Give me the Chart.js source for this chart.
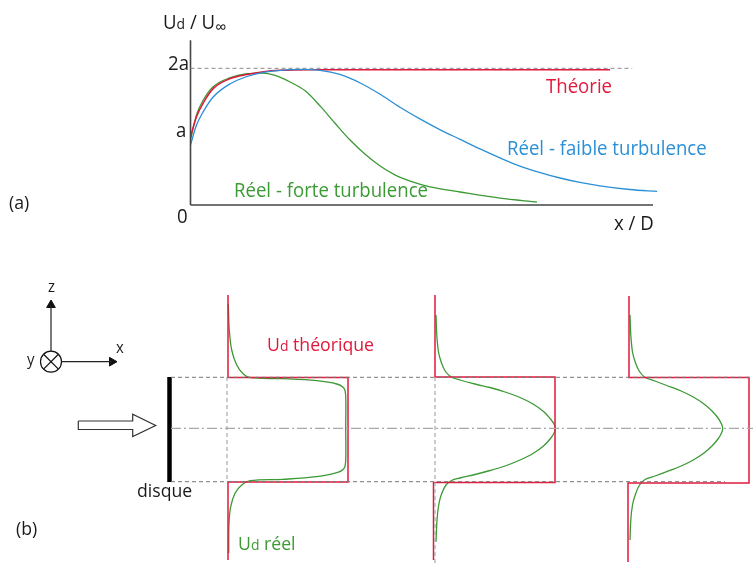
<!DOCTYPE html>
<html>
<head>
<meta charset="utf-8">
<script src="https://cdn.jsdelivr.net/npm/chart.js@4.4.1/dist/chart.umd.min.js"></script>
<style>
  html, body { margin: 0; padding: 0; background: #fff; }
  #wrap { width: 753px; height: 565px; }
</style>
</head>
<body>
<div id="wrap"><canvas id="fig" width="753" height="565"></canvas></div>
<script>
// ---- (a) Ud/U∞ versus x/D  (x in x/D units 0..10, y in units of a) ----
const xdTheory = [0, 0.13, 0.29, 0.5, 0.86, 1.22, 1.58, 1.94, 2.6, 9.07];
const udTheory = [1.0, 1.29, 1.51, 1.71, 1.85, 1.91, 1.95, 1.97, 1.98, 1.98];

const xdWeak = [0, 0.13, 0.28, 0.49, 0.85, 1.22, 1.57, 1.94, 2.37, 2.8, 3.23, 3.67, 4.1, 4.53, 4.96, 5.4, 5.83, 6.26, 6.69, 7.12, 7.56, 7.99, 8.42, 8.85, 9.5, 10.09];
const udWeak = [0.88, 1.17, 1.37, 1.58, 1.77, 1.88, 1.94, 1.97, 1.985, 1.97, 1.91, 1.785, 1.62, 1.43, 1.26, 1.1, 0.96, 0.82, 0.69, 0.57, 0.475, 0.395, 0.33, 0.28, 0.227, 0.198];

const xdStrong = [0, 0.13, 0.28, 0.49, 0.85, 1.22, 1.55, 1.83, 2.15, 2.48, 2.8, 3.12, 3.45, 3.77, 4.1, 4.42, 4.75, 5.18, 5.83, 6.69, 7.49];
const udStrong = [0.95, 1.32, 1.54, 1.73, 1.86, 1.92, 1.93, 1.895, 1.8, 1.67, 1.45, 1.2, 0.95, 0.745, 0.57, 0.44, 0.35, 0.265, 0.19, 0.1, 0.044];

const levelTwoA = 2;      // dashed 2a reference
const levelTwoAEnd = 9.55;
const axisXEnd = 10;
const axisYEnd = 2.41;

// ---- (b) wake profiles, diagram coordinates ----
const redProfile1 = [[228,295],[228,377.5],[348,377.5],[348,482],[228,482],[228,560]];
const redProfile2 = [[435,295],[435,377],[555,377],[555,482.5],[433.5,482.5],[433.5,560]];
const redProfile3 = [[629,296],[629,377.5],[749,377.5],[749,483],[628,483],[628,562]];

const greenProfile1 = [[228.3,304],[229.3,330],[231.7,350],[236.7,365],[243.3,374],[250,377.7],[283,378.7],[316.7,380.7],[336.7,384],[344,388.3],[345.7,396.7],[345.7,428],[345.7,460],[344,468.3],[336.7,472.7],[316.7,476.7],[283,479.3],[250,480.7],[241.7,485],[235,493.3],[230.7,506.7],[229,523.3],[228.7,553]];
const greenProfile2 = [[436,315],[436.8,335],[438.5,352],[441.5,363],[445.5,371.5],[451.5,377.2],[460,380],[475,384],[490,387.5],[505,392],[520,397.5],[533,404],[543.5,411.5],[550.5,419],[554.3,424.5],[555.3,428.5],[554.3,432.5],[550.5,438.5],[543.5,446],[533,453.5],[520,460],[505,466],[490,470.5],[475,474.5],[460,478],[451.5,480.5],[446,485],[441.5,494],[438.7,505],[437,520],[436,541.7]];
const greenProfile3 = [[630,315],[630.8,335],[632.5,352],[635.5,363],[639.5,371.5],[645,377.3],[655,381],[666.7,385.5],[680,390.5],[693.3,397],[704,404],[712,411],[718,418],[721.5,424],[722.7,428.5],[721.5,433],[718,439],[712,446],[704,453],[693.3,460],[680,466.5],[666.7,471.7],[655,476],[645,479.5],[639.5,485],[635.5,494],[632.5,505],[630.8,520],[630,540]];

const discEdgeTop = [[171,377.3],[749,377.3]];
const discEdgeBottom = [[171,481.7],[725,481.7]];
const wakeAxis = [[171,428.3],[753,428.3]];
const stationGuide1 = [[227,377],[227,482]];
const stationGuide2 = [[435,377],[435,564]];

const disc = [[169.5,377],[169.5,482]];
const flowArrow = [[78.3,421],[132.7,421],[132.7,414.3],[155.7,425.5],[132.7,436.5],[132.7,429.5],[78.3,429.5],[78.3,421]];

const triadOrigin = [51, 361.7];
const triadZ = [[51,351],[51,305]];
const triadX = [[61.5,361.7],[112,361.7]];
const triadZHead = [51, 305];
const triadXHead = [112, 361.7];

// ---- frame of panel (a) on the page ----
const A_LEFT = 190.5, A_RIGHT = 653, A_ZERO = 205, A_TWO = 68.3;
const W = 753, H = 565;
const pxX = (A_RIGHT - A_LEFT) / axisXEnd;
const pxY = (A_ZERO - A_TWO) / 2;

const RED = '#e2183c', BLUE = '#2b8fd6', GREEN = '#3b9a34', INK = '#1a1a1a';
const FONT = "'Open Sans', 'Noto Sans', sans-serif";
const SQUEEZE = 0.93;

const pairs = (xs, ys) => xs.map((x, i) => ({ x: x, y: ys[i] }));
const pts = arr => arr.map(p => ({ x: p[0], y: p[1] }));

function lineA(data, color, extra) {
  return Object.assign({ data: data, xAxisID: 'xA', yAxisID: 'yA', showLine: true, borderColor: color,
    borderWidth: 1.3, pointRadius: 0, fill: false, cubicInterpolationMode: 'monotone' }, extra || {});
}
function lineB(data, color, extra) {
  return Object.assign({ data: data, xAxisID: 'xB', yAxisID: 'yB', showLine: true, borderColor: color,
    borderWidth: 1.3, pointRadius: 0, fill: false, tension: 0 }, extra || {});
}

const datasets = [
  // panel (a)
  lineA([{x: 0, y: levelTwoA}, {x: levelTwoAEnd, y: levelTwoA}], '#8a8a8a', { borderWidth: 1, borderDash: [4, 3], cubicInterpolationMode: 'default' }),
  lineA([{x: 0, y: 0}, {x: 0, y: axisYEnd}], '#444', { borderWidth: 1.6, cubicInterpolationMode: 'default' }),
  lineA([{x: 0, y: 0}, {x: axisXEnd, y: 0}], '#444', { borderWidth: 1.6, cubicInterpolationMode: 'default' }),
  lineA(pairs(xdWeak, udWeak), BLUE),
  lineA(pairs(xdTheory, udTheory), RED, { borderWidth: 1.5 }),
  lineA(pairs(xdStrong, udStrong), GREEN),

  // panel (b) guides
  lineB(pts(discEdgeTop), '#777', { borderWidth: 1, borderDash: [4, 3] }),
  lineB(pts(discEdgeBottom), '#777', { borderWidth: 1, borderDash: [4, 3] }),
  lineB(pts(wakeAxis), '#a8a8a8', { borderWidth: 1.2, borderDash: [10, 3, 2, 3] }),
  lineB(pts(stationGuide1), '#999', { borderWidth: 1, borderDash: [4, 3] }),
  lineB(pts(stationGuide2), '#aaa', { borderWidth: 1.2, borderDash: [4, 3] }),

  // profiles
  lineB(pts(redProfile1), RED, { borderWidth: 1.5 }),
  lineB(pts(redProfile2), RED, { borderWidth: 1.5 }),
  lineB(pts(redProfile3), RED, { borderWidth: 1.5 }),
  lineB(pts(greenProfile1), GREEN, { tension: 0.35 }),
  lineB(pts(greenProfile2), GREEN, { tension: 0.3 }),
  lineB(pts(greenProfile3), GREEN, { tension: 0.3 }),

  // disc and incoming flow
  lineB(pts(disc), '#000', { borderWidth: 4.5, borderCapStyle: 'butt' }),
  lineB(pts(flowArrow), '#333', { borderWidth: 1.2 }),

  // axes triad
  lineB(pts(triadZ), '#222', { borderWidth: 1.2 }),
  lineB(pts(triadX), '#222', { borderWidth: 1.2 }),
  { data: [{x: triadZHead[0], y: triadZHead[1]}], xAxisID: 'xB', yAxisID: 'yB', pointStyle: 'triangle',
    pointRadius: 5, rotation: 0, backgroundColor: '#111', borderColor: '#111', borderWidth: 1 },
  { data: [{x: triadXHead[0], y: triadXHead[1]}], xAxisID: 'xB', yAxisID: 'yB', pointStyle: 'triangle',
    pointRadius: 5, rotation: 90, backgroundColor: '#111', borderColor: '#111', borderWidth: 1 },
  { data: [{x: triadOrigin[0], y: triadOrigin[1]}], xAxisID: 'xB', yAxisID: 'yB', pointStyle: 'circle',
    pointRadius: 10.5, backgroundColor: 'rgba(0,0,0,0)', borderColor: '#111', borderWidth: 1.2 },
  { data: [{x: triadOrigin[0], y: triadOrigin[1]}], xAxisID: 'xB', yAxisID: 'yB', pointStyle: 'crossRot',
    pointRadius: 10.5, borderColor: '#111', borderWidth: 1.2 }
];

// text: runs of [string, size, drop]
const texts = [
  { x: 163, y: 28.5, color: INK, runs: [['U', 20], ['d', 15], [' / U', 20], ['\u221E', 17, 4]] },
  { x: 168, y: 70, color: INK, runs: [['2a', 20]] },
  { x: 176, y: 137, color: INK, runs: [['a', 20]] },
  { x: 177, y: 223, color: INK, runs: [['0', 20]] },
  { x: 9, y: 209, color: INK, runs: [['(a)', 19]] },
  { x: 546, y: 93, color: RED, runs: [['Th\u00E9orie', 20]] },
  { x: 507, y: 155, color: BLUE, runs: [['R\u00E9el - faible turbulence', 20]] },
  { x: 234, y: 197, color: GREEN, runs: [['R\u00E9el - forte turbulence', 20]] },
  { x: 614, y: 230, color: INK, runs: [['x / D', 20]] },
  { x: 48, y: 292, color: INK, runs: [['z', 16]] },
  { x: 116, y: 353, color: INK, runs: [['x', 16]] },
  { x: 27, y: 365, color: INK, runs: [['y', 16]] },
  { x: 137, y: 497, color: INK, runs: [['disque', 19]] },
  { x: 16, y: 535, color: INK, runs: [['(b)', 19]] },
  { x: 267, y: 351, color: RED, runs: [['U', 19], ['d', 15], [' th\u00E9orique', 19]] },
  { x: 238, y: 550, color: GREEN, runs: [['U', 19], ['d', 15], [' r\u00E9el', 19]] }
];

const textPlugin = {
  id: 'figureText',
  afterDatasetsDraw(chart) {
    const ctx = chart.ctx;
    texts.forEach(t => {
      ctx.save();
      ctx.translate(t.x, t.y);
      ctx.scale(SQUEEZE, 1);
      ctx.fillStyle = t.color;
      ctx.textBaseline = 'alphabetic';
      ctx.textAlign = 'left';
      let cx = 0;
      t.runs.forEach(r => {
        ctx.font = r[1] + 'px ' + FONT;
        ctx.fillText(r[0], cx, r[2] || 0);
        cx += ctx.measureText(r[0]).width;
      });
      ctx.restore();
    });
  }
};

new Chart(document.getElementById('fig'), {
  type: 'scatter',
  data: { datasets: datasets },
  options: {
    responsive: false,
    animation: false,
    events: [],
    layout: { padding: 0, autoPadding: false },
    plugins: { legend: { display: false }, tooltip: { enabled: false }, title: { display: false } },
    scales: {
      xA: { type: 'linear', axis: 'x', display: false, min: -A_LEFT / pxX, max: (W - A_LEFT) / pxX },
      yA: { type: 'linear', axis: 'y', display: false, min: -(H - A_ZERO) / pxY, max: A_ZERO / pxY },
      xB: { type: 'linear', axis: 'x', display: false, min: 0, max: W },
      yB: { type: 'linear', axis: 'y', display: false, min: 0, max: H, reverse: true }
    }
  },
  plugins: [textPlugin]
});
</script>
</body>
</html>
